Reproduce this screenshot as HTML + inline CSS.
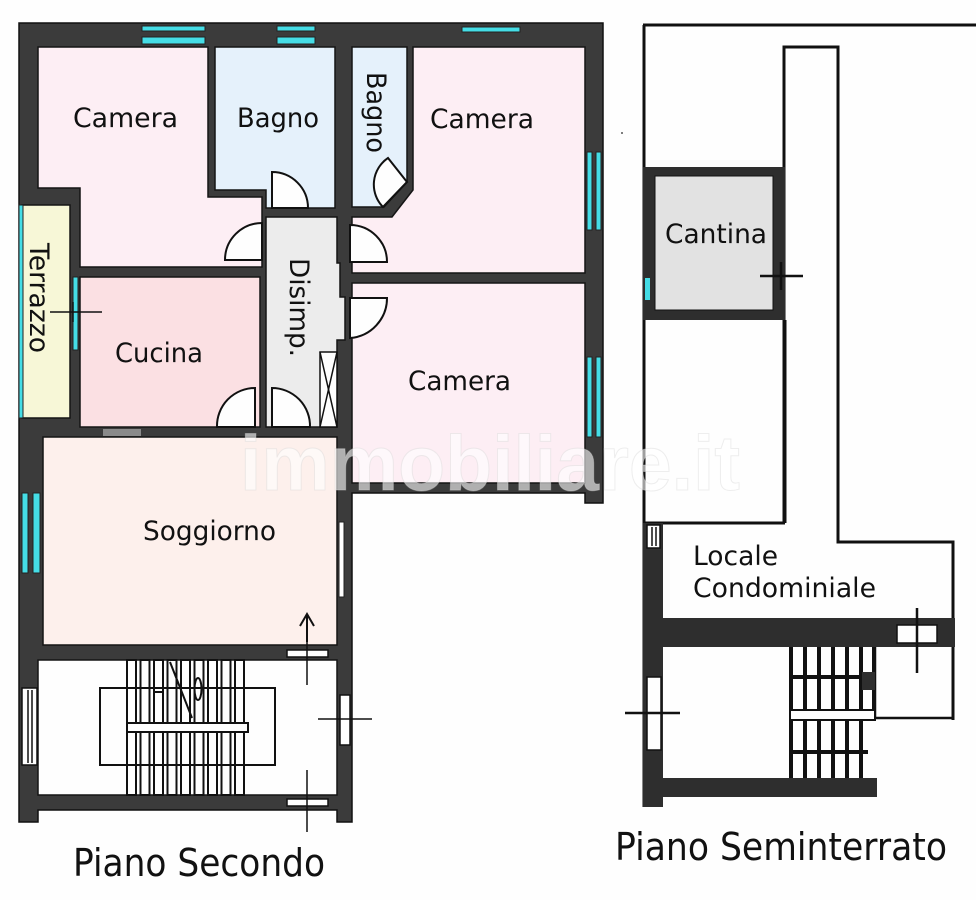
<!DOCTYPE html>
<html><head><meta charset="utf-8"><style>
html,body{margin:0;padding:0;background:#fefefe;}
svg{display:block;}
text{font-family:"DejaVu Sans","Liberation Sans",sans-serif;fill:#111;}
</style></head><body>
<svg width="976" height="900" viewBox="0 0 976 900" xmlns="http://www.w3.org/2000/svg">
<rect x="0" y="0" width="976" height="900" fill="#fefefe"/>

<!-- ============ PIANO SECONDO ============ -->
<path d="M19,23 L603,23 L603,503 L585,503 L585,493 L352,493 L352,822 L337,822 L337,810 L38,810 L38,822 L19,822 Z" fill="#3b3b3b" stroke="#111" stroke-width="1.5"/>

<g stroke="#151515" stroke-width="1.5">
<path d="M38,47 L208,47 L208,197 L262,197 L262,267 L80,267 L80,188 L38,188 Z" fill="#fdeef4"/>
<path d="M215,47 L335,47 L335,208 L266,208 L266,190 L215,190 Z" fill="#e5f1fb"/>
<path d="M352,47 L407,47 L407,182 L384,207 L352,207 Z" fill="#e5f1fb"/>
<path d="M413,47 L585,47 L585,273 L352,273 L352,217 L392,217 L413,190 Z" fill="#fdeef4"/>
<rect x="352" y="283" width="233" height="200" fill="#fdeef4"/>
<path d="M266,217 L337,217 L337,263 L340,263 L340,297 L345,297 L345,340 L337,340 L337,427 L266,427 Z" fill="#ececec"/>
<rect x="80" y="277" width="180" height="150" fill="#fbe0e3"/>
<rect x="22" y="205" width="48" height="213" fill="#f7f7d7"/>
<rect x="43" y="437" width="294" height="208" fill="#fdf0ec"/>
<rect x="38" y="660" width="299" height="135" fill="#fefefe"/>
</g>

<g fill="#45dde6" stroke="#222" stroke-width="1">
<rect x="142" y="26" width="63" height="5"/>
<rect x="142" y="37" width="63" height="7"/>
<rect x="277" y="26" width="38" height="5"/>
<rect x="277" y="37" width="38" height="7"/>
<rect x="462" y="27" width="58" height="5"/>
<rect x="587" y="152" width="5" height="78"/>
<rect x="596" y="152" width="5" height="78"/>
<rect x="587" y="357" width="5" height="80"/>
<rect x="596" y="357" width="5" height="80"/>
<rect x="22" y="493" width="6" height="80"/>
<rect x="33" y="493" width="7" height="80"/>
<rect x="19" y="205" width="4" height="213"/>
<rect x="73" y="277" width="5" height="73"/>
</g>
<g stroke="#111" stroke-width="1.5" fill="none">
<line x1="50" y1="312" x2="102" y2="312"/>
<line x1="73" y1="302" x2="73" y2="322"/>
</g>
<rect x="103" y="429" width="38" height="7" fill="#8a8a8a"/>

<rect x="339" y="522" width="5" height="75" fill="#fefefe" stroke="#222" stroke-width="1"/>

<g fill="#fefefe" stroke="#111" stroke-width="2">
<path d="M272,208 L272,172 A36,36 0 0 1 308,208 Z"/>
<path d="M262,260 L225,260 A37,37 0 0 1 262,223 Z"/>
<path d="M350,262 L387,262 A37,37 0 0 0 350,225 Z"/>
<path d="M350,298 L387,298 A40,40 0 0 1 350,338 Z"/>
<path d="M255,427 L255,388 A38,38 0 0 0 217,427 Z"/>
<path d="M272,427 L272,388 A38,38 0 0 1 310,427 Z"/>
<path d="M407,182 L388,158 A32,32 0 0 0 383,207 Z"/>
</g>
<g stroke="#111" stroke-width="1.5" fill="#fefefe">
<rect x="320" y="352" width="17" height="75"/>
<line x1="320" y1="352" x2="337" y2="427"/>
<line x1="337" y1="352" x2="320" y2="427"/>
</g>

<g stroke="#111" stroke-width="2" fill="none">
<line x1="307" y1="614" x2="307" y2="642"/>
<polyline points="300,626 307,614 314,626"/>
</g>

<g fill="#fefefe" stroke="#111" stroke-width="1.5">
<rect x="287" y="650" width="41" height="7"/>
<rect x="287" y="799" width="41" height="7"/>
<rect x="340" y="695" width="10" height="50"/>
<rect x="22" y="688" width="15" height="77"/>
</g>
<g stroke="#111" stroke-width="1.5" fill="none">
<line x1="28" y1="690" x2="28" y2="763"/>
<line x1="32" y1="690" x2="32" y2="763"/>
<line x1="307" y1="640" x2="307" y2="685"/>
<line x1="307" y1="770" x2="307" y2="832"/>
<line x1="318" y1="719" x2="372" y2="719"/>
</g>
<rect x="100" y="688" width="175" height="77" fill="#fefefe" stroke="#111" stroke-width="2"/>
<g stroke="#111" stroke-width="2" fill="#fefefe">
<rect x="127" y="660" width="9" height="135"/>
<rect x="140.5" y="660" width="9" height="135"/>
<rect x="154" y="660" width="9" height="135"/>
<rect x="167.5" y="660" width="9" height="135"/>
<rect x="181" y="660" width="9" height="135"/>
<rect x="194.5" y="660" width="9" height="135"/>
<rect x="208" y="660" width="9" height="135"/>
<rect x="221.5" y="660" width="9" height="135"/>
<rect x="235" y="660" width="9" height="135"/>
</g>
<g stroke="#111" stroke-width="2" fill="none">
<line x1="127" y1="688" x2="248" y2="688"/>
<line x1="127" y1="765" x2="248" y2="765"/>
</g>
<rect x="127" y="723" width="121" height="9" fill="#fefefe" stroke="#111" stroke-width="2"/>
<g stroke="#111" stroke-width="2" fill="none">
<line x1="170" y1="662" x2="192" y2="718"/>
<ellipse cx="198" cy="689" rx="3.5" ry="11"/>
<line x1="154" y1="688" x2="162" y2="688"/>
<line x1="154" y1="692" x2="162" y2="692"/>
</g>

<!-- ============ PIANO SEMINTERRATO ============ -->
<g stroke="#111" stroke-width="3" fill="none">
<line x1="643" y1="25" x2="976" y2="25"/>
<line x1="644" y1="25" x2="644" y2="807"/>
<polyline points="784,523 784,47 838,47 838,542 953,542 953,720"/>
<line x1="785" y1="320" x2="785" y2="523"/>
<line x1="643" y1="523" x2="785" y2="523"/>
</g>
<rect x="643" y="167" width="142" height="153" fill="#2e2e2e"/>
<rect x="655" y="176" width="118" height="134" fill="#e2e2e2" stroke="#111" stroke-width="1"/>
<rect x="645" y="278" width="5" height="22" fill="#45dde6"/>
<g stroke="#111" stroke-width="2.5">
<line x1="760" y1="276" x2="803" y2="276"/>
<line x1="781" y1="262" x2="781" y2="290"/>
</g>
<g fill="#2e2e2e">
<rect x="643" y="523" width="20" height="284"/>
<rect x="643" y="618" width="312" height="29"/>
<rect x="643" y="778" width="234" height="19"/>
</g>
<g fill="#fefefe" stroke="#111" stroke-width="1.5">
<rect x="647" y="525" width="13" height="23"/>
<rect x="647" y="677" width="14" height="73"/>
<rect x="897" y="625" width="40" height="18"/>
</g>
<g stroke="#111" stroke-width="1.5">
<line x1="652" y1="527" x2="652" y2="546"/>
<line x1="656" y1="527" x2="656" y2="546"/>
</g>
<g stroke="#111" stroke-width="2.5" fill="none">
<line x1="625" y1="713" x2="680" y2="713"/>
<line x1="917" y1="608" x2="917" y2="673"/>
<polyline points="875,647 875,718 953,718"/>
</g>
<g stroke="#111" stroke-width="4" fill="none">
<line x1="791" y1="647" x2="791" y2="778"/>
<line x1="805" y1="647" x2="805" y2="778"/>
<line x1="819" y1="647" x2="819" y2="778"/>
<line x1="833" y1="647" x2="833" y2="778"/>
<line x1="847" y1="647" x2="847" y2="778"/>
<line x1="861" y1="647" x2="861" y2="778"/>
<line x1="874" y1="647" x2="874" y2="710"/>
<line x1="790" y1="677" x2="875" y2="677"/>
<line x1="790" y1="752" x2="868" y2="752"/>
</g>
<rect x="790" y="710" width="85" height="10" fill="#fefefe" stroke="#111" stroke-width="2"/>
<rect x="862" y="672" width="13" height="18" fill="#2e2e2e"/>

<!-- watermark -->
<text x="240" y="490" font-size="78" font-weight="bold" textLength="500" lengthAdjust="spacingAndGlyphs" style="font-family:'Liberation Sans',sans-serif;fill:#ffffff;fill-opacity:0.6;stroke:#d5d5d5;stroke-opacity:0.4;stroke-width:1">immobiliare.it</text>

<g font-size="27">
<text x="73" y="127" textLength="105" lengthAdjust="spacingAndGlyphs">Camera</text>
<text x="237" y="127" textLength="82" lengthAdjust="spacingAndGlyphs">Bagno</text>
<text x="430" y="128" textLength="104" lengthAdjust="spacingAndGlyphs">Camera</text>
<text x="115" y="362" textLength="88" lengthAdjust="spacingAndGlyphs">Cucina</text>
<text x="408" y="390" textLength="103" lengthAdjust="spacingAndGlyphs">Camera</text>
<text x="143" y="540" textLength="133" lengthAdjust="spacingAndGlyphs">Soggiorno</text>
<text x="665" y="243" textLength="102" lengthAdjust="spacingAndGlyphs">Cantina</text>
<text x="693" y="565" textLength="85" lengthAdjust="spacingAndGlyphs">Locale</text>
<text x="693" y="597" textLength="183" lengthAdjust="spacingAndGlyphs">Condominiale</text>
<text transform="translate(367,72) rotate(90)" textLength="81" lengthAdjust="spacingAndGlyphs">Bagno</text>
<text transform="translate(290,258) rotate(90)" textLength="99" lengthAdjust="spacingAndGlyphs">Disimp.</text>
<text transform="translate(30,243) rotate(90)" textLength="110" lengthAdjust="spacingAndGlyphs">Terrazzo</text>
</g>

<text x="73" y="876" font-size="38" textLength="252" lengthAdjust="spacingAndGlyphs">Piano Secondo</text>
<text x="615" y="860" font-size="38" textLength="332" lengthAdjust="spacingAndGlyphs">Piano Seminterrato</text>
<circle cx="622" cy="133" r="1" fill="#555"/>
</svg>
</body></html>
